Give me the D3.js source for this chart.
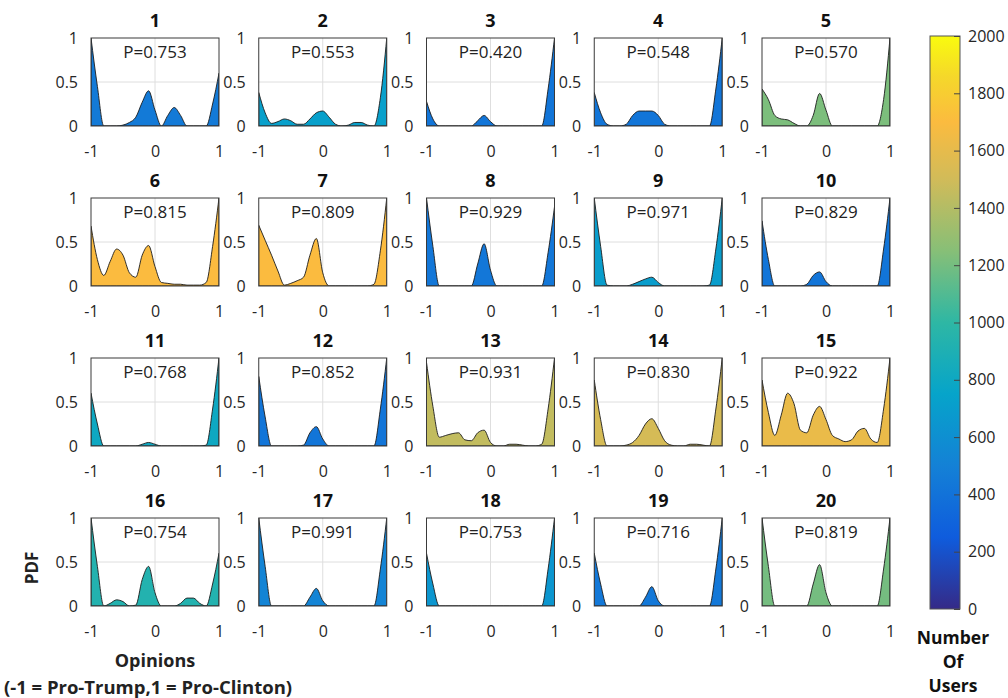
<!DOCTYPE html>
<html><head><meta charset="utf-8">
<script src="https://cdn.jsdelivr.net/npm/d3@7"></script>
<style>body{margin:0;background:#fff} svg{display:block;font-family:"Open Sans",sans-serif}</style>
</head><body><svg id="c" width="1008" height="698"></svg>
<script>
// ---------- data ----------
const xGrid = [-1,-0.9,-0.8,-0.7,-0.6,-0.5,-0.4,-0.3,-0.2,-0.1,0,0.1,0.2,0.3,0.4,0.5,0.6,0.7,0.8,0.9,1];
const panelTitles = ["1","2","3","4","5","6","7","8","9","10","11","12","13","14","15","16","17","18","19","20"];
const pValues = ["0.753","0.553","0.420","0.548","0.570","0.815","0.809","0.929","0.971","0.829",
                 "0.768","0.852","0.931","0.830","0.922","0.754","0.991","0.753","0.716","0.819"];
const userCounts = [450,720,420,420,1220,1700,1700,430,700,420,800,420,1450,1520,1620,930,520,650,440,1200];

const pdf1  = [1.0,0.45,0,0,0,0.01,0.04,0.1,0.27,0.4,0.18,0,0.12,0.21,0.12,0,0,0,0,0.25,0.6];
const pdf2  = [0.38,0.15,0.03,0.05,0.08,0.06,0.02,0.02,0.08,0.15,0.17,0.1,0.02,0,0.01,0.04,0.04,0.01,0,0.32,1.0];
const pdf3  = [0.28,0.08,0,0,0,0,0,0,0.06,0.12,0.05,0,0,0,0,0,0,0,0,0.42,1.0];
const pdf4  = [0.38,0.15,0.02,0,0,0.02,0.12,0.17,0.17,0.17,0.12,0.02,0,0,0,0,0,0,0,0.42,1.0];
const pdf5  = [0.42,0.3,0.12,0.08,0.07,0.03,0,0,0.12,0.37,0.18,0,0,0,0,0,0,0,0,0.3,1.0];
const pdf6  = [0.68,0.3,0.12,0.28,0.42,0.35,0.15,0.1,0.35,0.46,0.22,0.04,0.03,0.02,0.02,0.01,0.01,0.01,0.04,0.45,1.0];
const pdf7  = [0.69,0.52,0.35,0.17,0.01,0.03,0.06,0.1,0.35,0.54,0.15,0,0,0,0,0,0,0,0.02,0.4,1.0];
const pdf8  = [1.0,0.45,0,0,0,0,0,0,0.25,0.48,0.18,0,0,0,0,0,0,0,0,0.38,0.9];
const pdf9  = [1.0,0.45,0.01,0,0,0,0.02,0.05,0.08,0.1,0.04,0,0,0,0,0,0,0,0.01,0.42,1.0];
const pdf10 = [0.74,0.3,0,0,0,0,0,0.02,0.12,0.16,0.05,0,0,0,0,0,0,0,0,0.42,1.0];
const pdf11 = [0.6,0.25,0,0,0,0,0,0,0.02,0.04,0.02,0,0,0,0,0,0,0,0.01,0.42,1.0];
const pdf12 = [0.79,0.33,0,0,0,0,0,0.01,0.15,0.22,0.08,0,0,0,0,0,0,0,0,0.42,1.0];
const pdf13 = [0.95,0.45,0.1,0.12,0.14,0.15,0.07,0.06,0.15,0.18,0.04,0,0,0.02,0.02,0.01,0,0,0.02,0.42,1.0];
const pdf14 = [0.75,0.3,0,0,0,0.01,0.04,0.12,0.25,0.31,0.2,0.06,0.01,0,0,0.02,0.02,0.01,0,0.42,1.0];
const pdf15 = [0.75,0.38,0.12,0.35,0.6,0.48,0.18,0.15,0.35,0.45,0.3,0.12,0.08,0.05,0.07,0.17,0.2,0.08,0.04,0.42,1.0];
const pdf16 = [1.0,0.45,0,0.03,0.07,0.05,0,0.01,0.3,0.45,0.15,0,0,0,0.03,0.09,0.09,0.03,0,0.25,0.6];
const pdf17 = [1.0,0.45,0,0,0,0,0,0,0.1,0.2,0.06,0,0,0,0,0,0,0,0,0.42,1.0];
const pdf18 = [0.6,0.25,0,0,0,0,0,0,0,0,0,0,0,0,0,0,0,0,0,0.42,1.0];
const pdf19 = [0.6,0.25,0,0,0,0,0,0,0.1,0.22,0.06,0,0,0,0,0,0,0,0,0.42,1.0];
const pdf20 = [1.0,0.45,0,0,0,0,0,0,0.25,0.47,0.15,0,0,0,0,0,0,0,0,0.42,1.0];
const pdfs = [pdf1,pdf2,pdf3,pdf4,pdf5,pdf6,pdf7,pdf8,pdf9,pdf10,pdf11,pdf12,pdf13,pdf14,pdf15,pdf16,pdf17,pdf18,pdf19,pdf20];

const yTicks = [0,0.5,1];
const xTicks = [-1,0,1];
const cbTicks = [0,200,400,600,800,1000,1200,1400,1600,1800,2000];
const parulaStops = ['#352a87','#0f5cdd','#1481d6','#06a4ca','#2eb7a4','#87bf77','#d1bb59','#fbbb3f','#f5d82a','#f9fb0e'];
const parulaPos   = [0,0.125,0.25,0.375,0.5,0.625,0.75,0.85,0.93,1];

// ---------- layout ----------
const svg = d3.select("#c");
const W = 128, H = 88;
const colLeft = i => 91 + i * 167.75;
const rowTop = j => 38 + j * 160;
const x = d3.scaleLinear().domain([-1,1]).range([0,W]);
const y = d3.scaleLinear().domain([0,1]).range([H,0]);
const cnorm = d3.scaleLinear().domain([0,2000]).range([0,1]);
const parula = d3.scaleLinear().domain(parulaPos).range(parulaStops).interpolate(d3.interpolateRgb);
const area = d3.area().x((d,i)=>x(xGrid[i])).y0(y(0)).y1(d=>y(d)).curve(d3.curveMonotoneX);

const defs = svg.append("defs");
defs.append("clipPath").attr("id","pclip").append("rect").attr("width",W).attr("height",H);

pdfs.forEach((vals,k)=>{
  const i = k % 5, j = Math.floor(k/5);
  const g = svg.append("g").attr("transform",`translate(${colLeft(i)},${rowTop(j)})`);
  g.append("rect").attr("width",W).attr("height",H).attr("fill","#fff");
  g.selectAll(".gx").data([0]).enter().append("line")
    .attr("x1",d=>x(d)).attr("x2",d=>x(d)).attr("y1",0).attr("y2",H).attr("stroke","#dedede");
  g.selectAll(".gy").data([0.5]).enter().append("line")
    .attr("x1",0).attr("x2",W).attr("y1",d=>y(d)).attr("y2",d=>y(d)).attr("stroke","#dedede");
  g.append("path").datum(vals).attr("d",area).attr("clip-path","url(#pclip)")
    .attr("fill",parula(cnorm(userCounts[k]))).attr("stroke","#1c1c1c").attr("stroke-width",0.9);
  g.append("rect").attr("width",W).attr("height",H).attr("fill","none").attr("stroke","#3a3a3a").attr("stroke-width",1);
  const ay = g.append("g").call(d3.axisLeft(y).tickValues(yTicks).tickFormat(d3.format("")).tickSize(0).tickPadding(13));
  ay.select(".domain").remove();
  ay.selectAll("text").attr("font-size",16).attr("fill","#262626").attr("font-family","Open Sans");
  const ax = g.append("g").attr("transform",`translate(0,${H})`)
    .call(d3.axisBottom(x).tickValues(xTicks).tickFormat(d3.format("")).tickSize(0).tickPadding(20));
  ax.select(".domain").remove();
  ax.selectAll("text").attr("font-size",16).attr("fill","#262626").attr("font-family","Open Sans")
    .text(d=>d<0?"-"+Math.abs(d):String(d));
  g.append("text").attr("x",W/2).attr("y",-11).attr("text-anchor","middle")
    .attr("font-weight","bold").attr("font-size",18).attr("fill","#111").text(panelTitles[k]);
  g.append("text").attr("x",W/2).attr("y",20).attr("text-anchor","middle")
    .attr("font-size",17).attr("fill","#222").text("P=" + pValues[k]);
});

// axis labels
svg.append("text").attr("transform","translate(38,568) rotate(-90)").attr("text-anchor","middle")
  .attr("font-weight","bold").attr("font-size",17).attr("fill","#222").text("PDF");
svg.append("text").attr("x",155).attr("y",667).attr("text-anchor","middle")
  .attr("font-weight","bold").attr("font-size",18).attr("fill","#222").text("Opinions");
svg.append("text").attr("x",148).attr("y",694).attr("text-anchor","middle")
  .attr("font-weight","bold").attr("font-size",18.5).attr("fill","#222").text("(-1 = Pro-Trump,1 = Pro-Clinton)");

// colorbar
const cbX = 930, cbW = 30, cbTop = 36, cbBot = 609;
const cy = d3.scaleLinear().domain([0,2000]).range([cbBot,cbTop]);
const grad = defs.append("linearGradient").attr("id","cbg")
  .attr("x1",0).attr("y1",1).attr("x2",0).attr("y2",0);
parulaStops.forEach((c,i)=>grad.append("stop").attr("offset",parulaPos[i]).attr("stop-color",c));
svg.append("rect").attr("x",cbX).attr("y",cbTop).attr("width",cbW).attr("height",cbBot-cbTop)
  .attr("fill","url(#cbg)").attr("stroke","#555").attr("stroke-width",1);
const cbAxis = svg.append("g").attr("transform",`translate(${cbX+cbW},0)`)
  .call(d3.axisRight(cy).tickValues(cbTicks).tickSizeInner(-6).tickSizeOuter(0).tickPadding(8).tickFormat(d3.format("d")));
cbAxis.select(".domain").remove();
cbAxis.selectAll("line").attr("stroke","#444");
cbAxis.selectAll("text").attr("font-size",16).attr("fill","#262626").attr("font-family","Open Sans");
["Number","Of","Users"].forEach((t,i)=>{
  svg.append("text").attr("x",953).attr("y",644 + i*24).attr("text-anchor","middle")
    .attr("font-weight","bold").attr("font-size",17.5).attr("fill","#111").text(t);
});
</script>
</body></html>
